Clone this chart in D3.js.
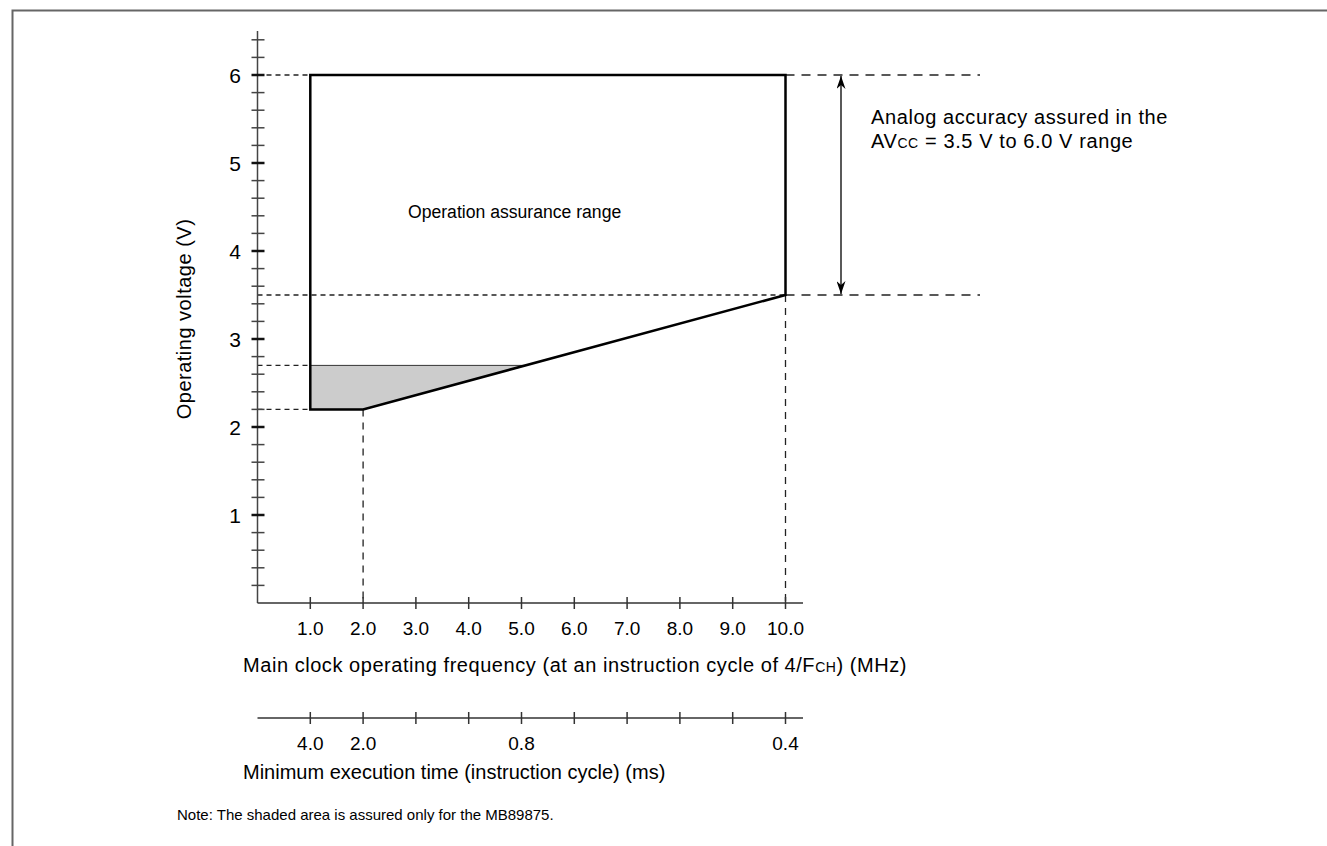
<!DOCTYPE html>
<html>
<head>
<meta charset="utf-8">
<script src="https://cdn.jsdelivr.net/npm/d3@7"></script>
<style>
  body { margin: 0; background: #fff; }
  svg { display: block; font-family: "Liberation Sans", Arial, sans-serif; }
</style>
</head>
<body>
<svg id="chart" width="1327" height="846"></svg>
<script>
// frequency axis (MHz)
const freqTicks = [1, 2, 3, 4, 5, 6, 7, 8, 9, 10];
const freqLabels = ["1.0", "2.0", "3.0", "4.0", "5.0", "6.0", "7.0", "8.0", "9.0", "10.0"];
// execution time axis (ms) - labelled only at some frequencies
const timeTickFreq = [1, 2, 5, 10];
const timeTickLabels = ["4.0", "2.0", "0.8", "0.4"];
// voltage axis
const voltLabels = [1, 2, 3, 4, 5, 6];
const voltMinor = d3.range(1, 33).map(i => i * 0.2);
// operation assurance range outline
const rangeFreq = [1, 10, 10, 2, 1];
const rangeVolt = [6, 6, 3.5, 2.2, 2.2];
// shaded area (MB89875 only)
const shadeFreq = [1, 5.08, 2, 1];
const shadeVolt = [2.7, 2.7, 2.2, 2.2];
// analog accuracy band
const analogBand = [3.5, 6];

const svg = d3.select('#chart');
const x = d3.scaleLinear().domain([0, 10]).range([257.5, 785.5]);
const y = d3.scaleLinear().domain([0, 6]).range([603, 75]);

// frame
svg.append('path')
  .attr('d', 'M12.5,846 V10.5 H1327')
  .attr('fill', 'none')
  .attr('stroke', '#666')
  .attr('stroke-width', 2);

// shaded region
svg.append('path')
  .attr('d', d3.line()(shadeFreq.map((f, i) => [x(f), y(shadeVolt[i])])) + 'Z')
  .attr('fill', '#cccccc')
  .attr('stroke', '#333')
  .attr('stroke-width', 1);

// dashed guide lines
const guides = svg.append('g').attr('fill', 'none').attr('stroke', '#222').attr('stroke-width', 1.3);
function dash(x1, y1, x2, y2, pattern) {
  guides.append('line')
    .attr('x1', x1).attr('y1', y1).attr('x2', x2).attr('y2', y2)
    .attr('stroke-dasharray', pattern);
}
dash(x(0), y(6), x(1), y(6), '5,4');
dash(x(0), y(2.7), x(1), y(2.7), '5,4');
dash(x(0), y(2.2), x(1), y(2.2), '5,4');
dash(x(0), y(3.5), x(10), y(3.5), '5,4');
dash(x(2), y(2.2), x(2), y(0), '7,6');
dash(x(10), y(3.5), x(10), y(0), '7,6');
dash(x(10), y(6), 980, y(6), '9,7');
dash(x(10), y(3.5), 980, y(3.5), '9,7');

// operation range outline
svg.append('path')
  .attr('d', d3.line()(rangeFreq.map((f, i) => [x(f), y(rangeVolt[i])])) + 'Z')
  .attr('fill', 'none')
  .attr('stroke', '#000')
  .attr('stroke-width', 2.5)
  .attr('stroke-linejoin', 'miter');

// y axis
const yAxis = svg.append('g').attr('stroke', '#444').attr('stroke-width', 1.5);
yAxis.append('line').attr('x1', x(0)).attr('x2', x(0)).attr('y1', y(6.5)).attr('y2', y(0));
yAxis.selectAll('.minor').data(voltMinor).enter().append('line')
  .attr('x1', x(0) - 6).attr('x2', x(0) + 7)
  .attr('y1', d => y(d)).attr('y2', d => y(d))
  .attr('stroke-width', d => Math.abs(d - Math.round(d)) < 1e-6 ? 2.5 : 1.5)
  .attr('stroke', d => Math.abs(d - Math.round(d)) < 1e-6 ? '#111' : '#444');
svg.selectAll('.ylab').data(voltLabels).enter().append('text')
  .attr('x', 241).attr('y', d => y(d) + 7.5)
  .attr('text-anchor', 'end').attr('font-size', 21)
  .text(d => d);
svg.append('text')
  .attr('transform', 'translate(191,319) rotate(-90)')
  .attr('text-anchor', 'middle').attr('font-size', 20).attr('letter-spacing', 0.5)
  .text('Operating voltage (V)');

// frequency axis
const fAxis = svg.append('g').attr('stroke', '#333').attr('stroke-width', 1.5);
fAxis.append('line').attr('x1', x(0)).attr('x2', 803).attr('y1', y(0)).attr('y2', y(0));
fAxis.selectAll('.t').data(freqTicks).enter().append('line')
  .attr('x1', d => x(d)).attr('x2', d => x(d))
  .attr('y1', y(0) - 6).attr('y2', y(0) + 6);
svg.selectAll('.xlab').data(freqTicks).enter().append('text')
  .attr('x', d => x(d)).attr('y', 635)
  .attr('text-anchor', 'middle').attr('font-size', 19)
  .text((d, i) => freqLabels[i]);
const fTitle = svg.append('text').attr('x', 243).attr('y', 672)
  .attr('font-size', 20).attr('letter-spacing', 0.55);
fTitle.append('tspan').text('Main clock operating frequency (at an instruction cycle of 4/F');
fTitle.append('tspan').attr('font-size', 14).text('CH');
fTitle.append('tspan').text(') (MHz)');

// execution time axis
const tY = 718;
const tAxis = svg.append('g').attr('stroke', '#333').attr('stroke-width', 1.5);
tAxis.append('line').attr('x1', x(0)).attr('x2', 803).attr('y1', tY).attr('y2', tY);
tAxis.selectAll('.t').data(freqTicks).enter().append('line')
  .attr('x1', d => x(d)).attr('x2', d => x(d))
  .attr('y1', tY - 6).attr('y2', tY + 6);
svg.selectAll('.tlab').data(timeTickFreq).enter().append('text')
  .attr('x', d => x(d)).attr('y', 750)
  .attr('text-anchor', 'middle').attr('font-size', 19)
  .text((d, i) => timeTickLabels[i]);
svg.append('text').attr('x', 243).attr('y', 779).attr('font-size', 20)
  .text('Minimum execution time (instruction cycle) (ms)');

// region label
svg.append('text').attr('x', 408).attr('y', 218).attr('font-size', 17.6)
  .text('Operation assurance range');

// analog accuracy arrow
const defs = svg.append('defs');
defs.append('marker')
  .attr('id', 'ah').attr('viewBox', '0 0 10 10')
  .attr('refX', 10).attr('refY', 5)
  .attr('markerWidth', 13).attr('markerHeight', 9)
  .attr('markerUnits', 'userSpaceOnUse')
  .attr('orient', 'auto-start-reverse')
  .attr('preserveAspectRatio', 'none')
  .append('path').attr('d', 'M0,0 L10,5 L0,10 L3,5 Z').attr('fill', '#000');
svg.append('line')
  .attr('x1', 841).attr('x2', 841)
  .attr('y1', y(analogBand[0]) - 1).attr('y2', y(analogBand[1]) + 1)
  .attr('stroke', '#000').attr('stroke-width', 1.3)
  .attr('marker-start', 'url(#ah)').attr('marker-end', 'url(#ah)');
svg.append('text').attr('x', 871).attr('y', 124).attr('font-size', 20).attr('letter-spacing', 0.6)
  .text('Analog accuracy assured in the');
const av = svg.append('text').attr('x', 871).attr('y', 148).attr('font-size', 20).attr('letter-spacing', 0.6);
av.append('tspan').text('AV');
av.append('tspan').attr('font-size', 14).text('CC');
av.append('tspan').text(' = 3.5 V to 6.0 V range');

// note
svg.append('text').attr('x', 177).attr('y', 820).attr('font-size', 15)
  .text('Note: The shaded area is assured only for the MB89875.');
</script>
</body>
</html>
